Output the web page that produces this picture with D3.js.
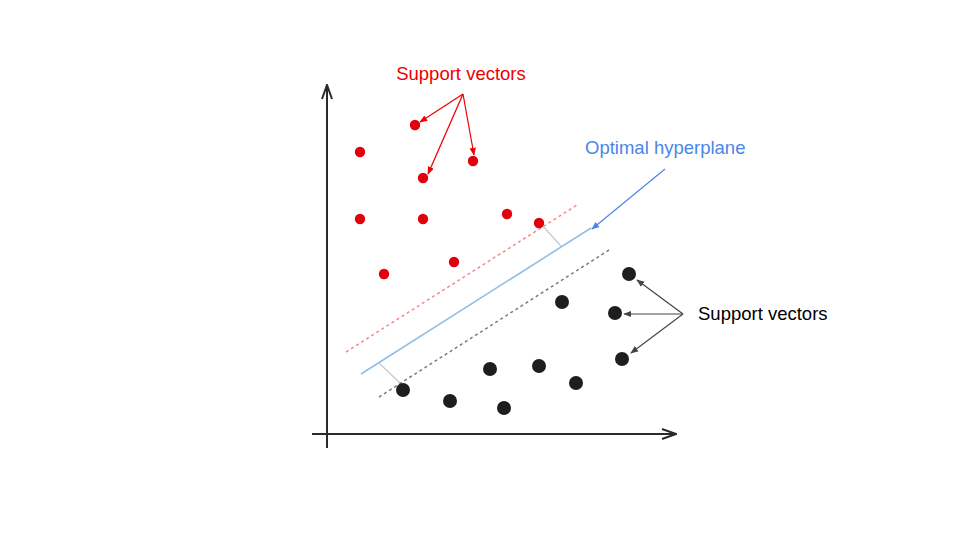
<!DOCTYPE html>
<html>
<head>
<meta charset="utf-8">
<script src="https://cdn.jsdelivr.net/npm/d3@7"></script>
<style>
  body { margin: 0; background: #fff; }
</style>
</head>
<body>
<script>
// values, in units from the axis origin
var redPoints = [[33, 282], [88, 309], [146, 273], [96, 256], [33, 215],
                 [96, 215], [180, 220], [212, 211], [57, 160], [127, 172]];
var blackPoints = [[76, 44], [123, 33], [177, 26], [163, 65], [212, 68],
                   [249, 51], [235, 132], [302, 160], [288, 121], [295, 75]];

var hyperplane = [[34, 60], [264, 206]];
var redMargin = [[19, 82], [250, 229]];
var blackMargin = [[52, 37], [282, 184]];
var marginTicks = [[[213, 211], [234, 188]], [[52, 71], [73, 51]]];

var redArrowFrom = [136, 340];
var redArrowTo = [[93, 312], [101, 260], [147, 279]];
var blackArrowFrom = [356, 120];
var blackArrowTo = [[310, 154], [297, 120], [304, 81]];
var blueArrow = [[338, 265], [265, 205]];

var labels = [
    {text: "Support vectors", pos: [134, 354], anchor: "middle", color: "#ee0000"},
    {text: "Optimal hyperplane", pos: [258, 280], anchor: "start", color: "#4a86e8"},
    {text: "Support vectors", pos: [371, 114], anchor: "start", color: "#000"}
];

var width = 960, height = 540;

var svg = d3.select("body").append("svg")
    .attr("width", width)
    .attr("height", height);

// scales: origin of the axes sits at (327, 434)
var xScale = d3.scaleLinear()
    .domain([0, 350])
    .range([327, 677]);

var yScale = d3.scaleLinear()
    .domain([0, 350])
    .range([434, 84]);

var defs = svg.append("defs");

function addMarker(id, color) {
    defs.append("marker")
        .attr("id", id)
        .attr("viewBox", "0 0 10 10")
        .attr("refX", 9)
        .attr("refY", 5)
        .attr("markerWidth", 8)
        .attr("markerHeight", 8)
        .attr("markerUnits", "userSpaceOnUse")
        .attr("orient", "auto")
        .append("path")
        .attr("d", "M0,1 L10,5 L0,9 Z")
        .attr("fill", color);
}
addMarker("arrRed", "#ee0000");
addMarker("arrBlack", "#444");
addMarker("arrBlue", "#4a86e8");

// axes with open chevron heads
defs.append("marker")
    .attr("id", "axisHead")
    .attr("viewBox", "0 0 16 12")
    .attr("refX", 15)
    .attr("refY", 6)
    .attr("markerWidth", 16)
    .attr("markerHeight", 12)
    .attr("markerUnits", "userSpaceOnUse")
    .attr("orient", "auto")
    .append("path")
    .attr("d", "M1,1 L15,6 L1,11")
    .attr("fill", "none")
    .attr("stroke", "#2a2a2a")
    .attr("stroke-width", 2);

svg.append("line")
    .attr("x1", xScale(0)).attr("y1", yScale(-14))
    .attr("x2", xScale(0)).attr("y2", yScale(349))
    .attr("stroke", "#2a2a2a")
    .attr("stroke-width", 2)
    .attr("marker-end", "url(#axisHead)");

svg.append("line")
    .attr("x1", xScale(-15)).attr("y1", yScale(0))
    .attr("x2", xScale(349)).attr("y2", yScale(0))
    .attr("stroke", "#2a2a2a")
    .attr("stroke-width", 2)
    .attr("marker-end", "url(#axisHead)");

var line = d3.line()
    .x(function (d) { return xScale(d[0]); })
    .y(function (d) { return yScale(d[1]); });

// margins and hyperplane
svg.append("path")
    .attr("d", line(redMargin))
    .attr("stroke", "#f08a8a")
    .attr("stroke-width", 1.5)
    .attr("stroke-dasharray", "3,3")
    .attr("fill", "none");

svg.append("path")
    .attr("d", line(blackMargin))
    .attr("stroke", "#7a7a7a")
    .attr("stroke-width", 1.5)
    .attr("stroke-dasharray", "3,3")
    .attr("fill", "none");

svg.selectAll(".tick-seg")
    .data(marginTicks)
    .enter()
    .append("path")
    .attr("class", "tick-seg")
    .attr("d", function (d) { return line(d); })
    .attr("stroke", "#c8c8c8")
    .attr("stroke-width", 1.2)
    .attr("fill", "none");

svg.append("path")
    .attr("d", line(hyperplane))
    .attr("stroke", "#8fbfe6")
    .attr("stroke-width", 1.6)
    .attr("fill", "none");

// points
svg.selectAll(".red")
    .data(redPoints)
    .enter()
    .append("circle")
    .attr("class", "red")
    .attr("cx", function (d) { return xScale(d[0]); })
    .attr("cy", function (d) { return yScale(d[1]); })
    .attr("r", 5.2)
    .attr("fill", "#e2000f");

svg.selectAll(".black")
    .data(blackPoints)
    .enter()
    .append("circle")
    .attr("class", "black")
    .attr("cx", function (d) { return xScale(d[0]); })
    .attr("cy", function (d) { return yScale(d[1]); })
    .attr("r", 7)
    .attr("fill", "#1e1e1e");

// callout arrows
svg.selectAll(".red-arrow")
    .data(redArrowTo)
    .enter()
    .append("path")
    .attr("class", "red-arrow")
    .attr("d", function (d) { return line([redArrowFrom, d]); })
    .attr("stroke", "#ee0000")
    .attr("stroke-width", 1.2)
    .attr("marker-end", "url(#arrRed)");

svg.selectAll(".black-arrow")
    .data(blackArrowTo)
    .enter()
    .append("path")
    .attr("class", "black-arrow")
    .attr("d", function (d) { return line([blackArrowFrom, d]); })
    .attr("stroke", "#444")
    .attr("stroke-width", 1.2)
    .attr("marker-end", "url(#arrBlack)");

svg.append("path")
    .attr("d", line(blueArrow))
    .attr("stroke", "#4a86e8")
    .attr("stroke-width", 1.2)
    .attr("marker-end", "url(#arrBlue)");

// labels
svg.selectAll(".label")
    .data(labels)
    .enter()
    .append("text")
    .attr("class", "label")
    .text(function (d) { return d.text; })
    .attr("x", function (d) { return xScale(d.pos[0]); })
    .attr("y", function (d) { return yScale(d.pos[1]); })
    .attr("text-anchor", function (d) { return d.anchor; })
    .attr("font-family", "Arial, 'Liberation Sans', sans-serif")
    .attr("font-size", "18.5px")
    .attr("fill", function (d) { return d.color; });
</script>
</body>
</html>
